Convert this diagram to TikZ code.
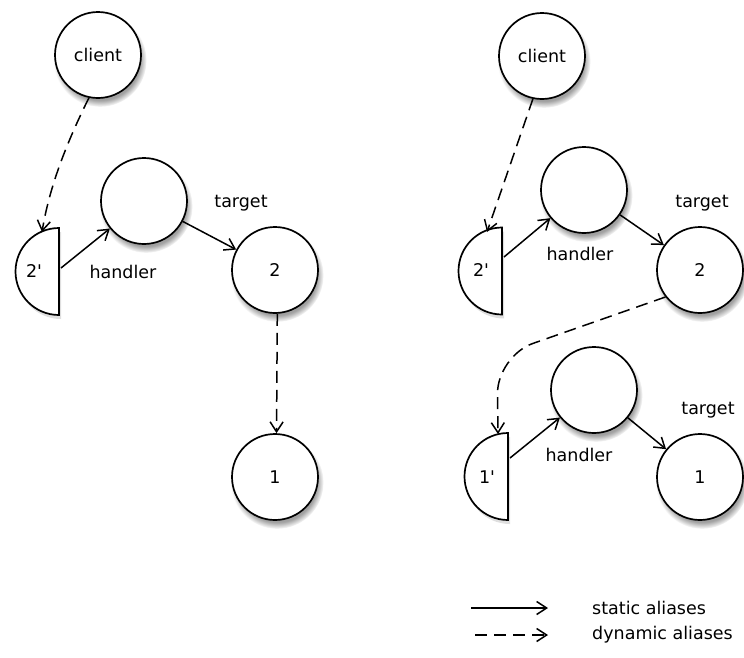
\documentclass[tikz,border=0pt]{standalone}
\usepackage{fontspec}
\setmainfont{DejaVu Sans}
\usetikzlibrary{arrows.meta,shadows,fadings}
\begin{document}
\begin{tikzpicture}[x=1pt,y=-1pt,
  ball/.style={circle, draw, line width=1.7pt, fill=white, minimum size=86pt, inner sep=0pt,
    font=\fontsize{17.5}{20}\selectfont,
    circular drop shadow={shadow xshift=2pt, shadow yshift=-5pt, opacity=0.75, shadow scale=1.08}},
  halfball/.style={draw, line width=1.7pt, fill=white,
    drop shadow={shadow xshift=2pt, shadow yshift=-4pt, opacity=0.25}},
  lbl/.style={font=\fontsize{17.5}{20}\selectfont, inner sep=0pt},
  stat/.style={line width=1.5pt, -{Straight Barb[length=10pt,width=13pt]}},
  dyn/.style={stat, dash pattern=on 12pt off 7pt},
]
\useasboundingbox (0,0) rectangle (744,657);

% ---------- left diagram ----------
\node[ball] (cL) at (98,55) {client};
\node[ball] (hL) at (144,201) {};
\node[ball] (t2L) at (275,270) {2};
\node[ball] (t1L) at (275,477) {1};
\filldraw[halfball] (59,228) arc[start angle=270, end angle=90, radius=43.5] -- cycle;
\node[lbl] (p2L) at (34,271) {2\textquotesingle};
\coordinate (p2Lin) at (42,232);
\coordinate (p2Lout) at (61,268);
\node[lbl] (hlabL) at (123,272) {handler};
\node[lbl] (tlabL) at (241,203) {target};

\draw[dyn] (cL.258) .. controls (64,148) and (49,190) .. (p2Lin);
\draw[stat] (p2Lout) -- (hL);
\draw[stat] (hL) -- (t2L);
\draw[dyn] (t2L.-87) -- (t1L.88);

% ---------- right diagram ----------
\node[ball] (cR) at (542,56) {client};
\node[ball] (hR) at (584,190) {};
\node[ball] (t2R) at (700,270) {2};
\filldraw[halfball] (502,227.5) arc[start angle=270, end angle=90, radius=43.5] -- cycle;
\node[lbl] (p2R) at (481,270) {2\textquotesingle};
\coordinate (p2Rin) at (487,232);
\coordinate (p2Rout) at (504,257);
\node[lbl] (hlabR) at (580,254) {handler};
\node[lbl] (tlabR) at (702,203) {target};

\node[ball] (hR2) at (594,390) {};
\node[ball] (t1R) at (700,477) {1};
\filldraw[halfball] (508,433) arc[start angle=270, end angle=90, radius=43.5] -- cycle;
\node[lbl] (p1R) at (487,477) {1\textquotesingle};
\coordinate (p1Rin) at (498,434);
\coordinate (p1Rout) at (510,458);
\coordinate (bend) at (497,356);
\node[lbl] (hlabR2) at (579,455) {handler};
\node[lbl] (tlabR2) at (708,410) {target};

\draw[dyn] (cR.258) -- (p2Rin);
\draw[stat] (p2Rout) -- (hR);
\draw[stat] (hR) -- (t2R);
\draw[dyn, rounded corners=38pt] (t2R.218) -- (bend) -- (p1Rin);
\draw[stat] (p1Rout) -- (hR2);
\draw[stat] (hR2) -- (t1R);

% ---------- legend ----------
\coordinate (ls1) at (471,608);
\coordinate (ls2) at (548,608);
\coordinate (ld1) at (475,635);
\coordinate (ld2) at (548,635);
\draw[stat] (ls1) -- (ls2);
\draw[dyn] (ld1) -- (ld2);
\node[lbl, anchor=west] (lst) at (592,608) {static aliases};
\node[lbl, anchor=west] (ldt) at (592,635) {dynamic aliases};
\end{tikzpicture}
\end{document}
